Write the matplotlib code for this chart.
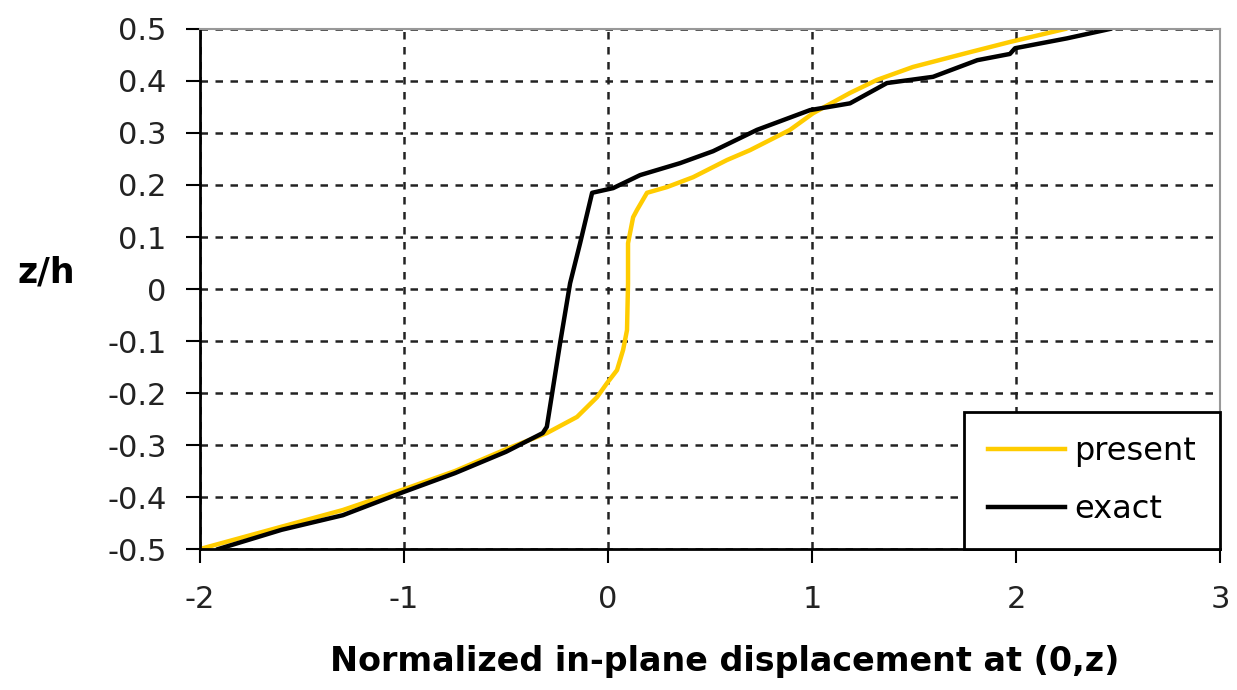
import matplotlib
matplotlib.use("Agg")
import matplotlib.pyplot as plt

# ----- values -----
exact_x = [-1.91, -1.6, -1.3, -1.0, -0.75, -0.5, -0.32, -0.30, -0.235, -0.186, -0.137,
           -0.078, 0.025, 0.157, 0.353, 0.515, 0.73, 0.99, 1.186, 1.367, 1.593, 1.81,
           1.97, 1.995, 2.25, 2.46]
exact_y = [-0.5, -0.463, -0.435, -0.39, -0.354, -0.313, -0.277, -0.265, -0.104, 0.011, 0.088,
           0.185, 0.194, 0.219, 0.242, 0.265, 0.306, 0.344, 0.357, 0.396, 0.408, 0.44,
           0.452, 0.463, 0.482, 0.5]

present_x = [-2.0, -1.6, -1.3, -1.0, -0.75, -0.5, -0.30, -0.152, -0.054, -0.005, 0.044,
             0.074, 0.093, 0.098, 0.098, 0.123, 0.142, 0.191, 0.289, 0.417, 0.583, 0.696,
             0.892, 1.005, 1.186, 1.318, 1.495, 1.76, 1.97, 2.24]
present_y = [-0.5, -0.457, -0.425, -0.385, -0.35, -0.308, -0.277, -0.246, -0.208, -0.181, -0.156,
             -0.117, -0.079, 0.011, 0.088, 0.138, 0.152, 0.185, 0.196, 0.215, 0.248, 0.267,
             0.306, 0.338, 0.377, 0.402, 0.427, 0.454, 0.475, 0.5]

x_ticks = [-2, -1, 0, 1, 2, 3]
y_ticks = [-0.5, -0.4, -0.3, -0.2, -0.1, 0, 0.1, 0.2, 0.3, 0.4, 0.5]
y_tick_labels = ['-0.5', '-0.4', '-0.3', '-0.2', '-0.1', '0', '0.1', '0.2', '0.3', '0.4', '0.5']

plt.rcParams['font.family'] = ['DejaVu Sans']
plt.rcParams['axes.unicode_minus'] = False

fig = plt.figure(figsize=(12.37, 6.9), dpi=100)
ax = fig.add_axes([0.1617, 0.2043, 0.8246, 0.7537])

ax.plot(present_x, present_y, color='#FFCC00', linewidth=3.2, label='present')
ax.plot(exact_x, exact_y, color='black', linewidth=3.2, label='exact')

ax.set_xlim(-2, 3)
ax.set_ylim(-0.5, 0.5)
ax.set_xticks(x_ticks)
ax.set_yticks(y_ticks)
ax.set_yticklabels(y_tick_labels)
ax.tick_params(axis='both', labelsize=22, direction='out', length=10, width=1.5, color='black',
               labelcolor='#222222')
ax.tick_params(axis='y', pad=14)
ax.tick_params(axis='x', pad=16)

ax.grid(True, color='#222222', linestyle=(0, (3, 3)), linewidth=1.8)
ax.set_axisbelow(True)

for side in ['left', 'bottom']:
    ax.spines[side].set_color('black')
    ax.spines[side].set_linewidth(2)
for side in ['top', 'right']:
    ax.spines[side].set_color('#999999')
    ax.spines[side].set_linewidth(1.5)

ax.set_xlabel('Normalized in-plane displacement at (0,z)', fontsize=24, fontweight='bold')
ax.xaxis.set_label_coords(0.514, -0.185)
ax.set_ylabel('z/h', fontsize=25, fontweight='bold', rotation=0)
ax.yaxis.set_label_coords(-0.151, 0.50)

leg = ax.legend(loc='lower right', fontsize=23, frameon=True, fancybox=False,
                borderaxespad=0, handlelength=2.4, handletextpad=0.3, labelspacing=0.85,
                borderpad=0.75)
leg.get_frame().set_edgecolor('black')
leg.get_frame().set_linewidth(2)
leg.get_frame().set_alpha(1)

fig.savefig('out.png', dpi=100)
